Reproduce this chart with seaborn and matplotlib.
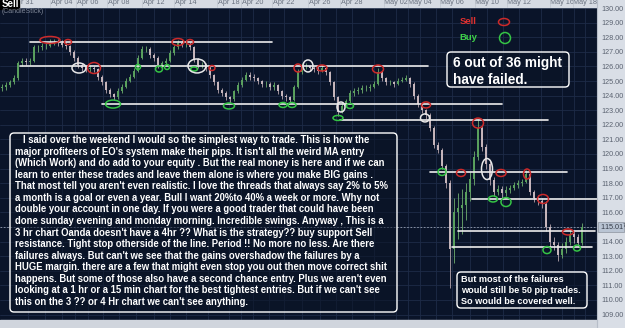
import numpy as np
import pandas as pd
import matplotlib
matplotlib.use("Agg")
import matplotlib.pyplot as plt
import seaborn as sns
from matplotlib.patches import Ellipse, FancyBboxPatch, Rectangle

# ---------------- data ----------------
closes = [124.6, 124.7, 124.9, 125.2, 126.2, 126.4, 126.3, 126.4, 127.3, 127.3,
          127.4, 127.4, 127.7, 127.7, 127.6, 127.5, 127.4, 127.0, 126.6, 126.1,
          125.9, 125.8, 125.9, 125.8, 125.3, 124.9, 124.4, 124.1, 123.9, 124.3,
          124.6, 125.0, 125.3, 125.7, 126.6, 127.2, 127.2, 126.8, 126.6, 126.1,
          126.2, 126.4, 126.9, 127.3, 127.6, 127.5, 127.5, 127.3, 126.5, 126.1,
          126.1, 125.9, 125.4, 124.9, 124.4, 124.2, 123.9, 123.8, 124.3, 124.7,
          125.1, 125.4, 125.3, 125.2, 125.0, 124.8, 124.8, 124.6, 124.7, 124.3,
          124.0, 123.9, 123.7, 124.6, 125.6, 126.0, 126.0, 125.9, 125.8, 125.7,
          125.9, 125.6, 124.9, 123.9, 122.9, 123.3, 123.6, 124.2, 124.3, 124.4,
          124.5, 124.5, 124.6, 124.8, 125.6, 125.2, 124.9, 124.9, 124.8, 125.0,
          125.1, 125.2, 124.8, 124.0, 123.4, 123.0, 122.7, 121.8, 120.6, 120.3,
          119.2, 118.0, 113.5, 116.0, 116.3, 116.5, 117.4, 118.3, 119.8, 121.8,
          120.5, 119.3, 118.2, 117.4, 117.6, 117.3, 117.5, 117.7, 117.9, 118.0,
          118.1, 118.6, 117.4, 117.0, 116.8, 116.6, 115.0, 114.0, 113.8, 113.1,
          113.5, 114.0, 114.5, 114.3, 113.9, 115.0]
highs = [124.8, 124.9, 125.1, 125.4, 126.4, 126.6, 126.6, 126.6, 127.5, 127.5,
         127.6, 127.6, 127.9, 127.9, 127.9, 127.8, 127.7, 127.5, 127.1, 126.7,
         126.2, 126.1, 126.1, 126.0, 125.9, 125.4, 125.0, 124.5, 124.2, 124.5,
         124.8, 125.2, 125.5, 125.9, 126.8, 127.4, 127.4, 127.3, 126.9, 126.7,
         126.4, 126.6, 127.1, 127.5, 127.8, 127.8, 127.8, 127.7, 127.4, 126.6,
         126.3, 126.2, 126.0, 125.5, 125.0, 124.5, 124.3, 124.0, 124.4, 124.9,
         125.3, 125.6, 125.6, 125.5, 125.3, 125.1, 125.0, 124.9, 124.9, 124.8,
         124.4, 124.1, 124.0, 124.7, 125.8, 126.2, 126.2, 126.1, 126.0, 126.0,
         126.1, 126.0, 125.7, 125.0, 124.0, 123.5, 123.8, 124.4, 124.5, 124.6,
         124.7, 124.7, 124.8, 125.0, 125.9, 125.7, 125.3, 125.1, 125.0, 125.2,
         125.3, 125.4, 125.3, 124.9, 124.1, 123.5, 123.1, 122.8, 121.9, 120.8,
         120.4, 119.3, 118.2, 117.0, 117.3, 117.6, 118.0, 118.8, 120.2, 122.4,
         122.0, 120.7, 119.5, 118.4, 117.9, 117.8, 117.8, 117.9, 118.1, 118.2,
         118.3, 118.9, 118.7, 117.5, 117.2, 117.0, 116.8, 115.2, 114.3, 114.0,
         113.9, 114.3, 114.8, 114.7, 114.5, 115.3]
lows = [124.3, 124.4, 124.6, 124.8, 125.1, 126.0, 126.1, 126.1, 126.3, 127.0,
        127.1, 127.2, 127.3, 127.5, 127.4, 127.3, 127.2, 126.8, 126.4, 125.9,
        125.7, 125.6, 125.6, 125.6, 125.1, 124.7, 124.2, 123.9, 123.7, 123.8,
        124.2, 124.5, 124.9, 125.2, 125.6, 126.5, 127.0, 126.6, 126.4, 125.9,
        125.9, 126.1, 126.3, 126.8, 127.2, 127.3, 127.3, 127.1, 126.3, 125.9,
        125.9, 125.7, 125.2, 124.7, 124.2, 124.0, 123.7, 123.5, 123.6, 124.2,
        124.6, 125.0, 125.1, 125.0, 124.8, 124.6, 124.6, 124.4, 124.4, 124.1,
        123.8, 123.6, 123.5, 123.6, 124.5, 125.5, 125.8, 125.7, 125.6, 125.5,
        125.6, 125.4, 124.7, 123.7, 122.6, 122.8, 123.2, 123.5, 124.0, 124.1,
        124.2, 124.3, 124.3, 124.5, 124.7, 125.0, 124.7, 124.7, 124.6, 124.7,
        124.9, 125.0, 124.6, 123.8, 123.2, 122.8, 122.4, 121.6, 120.4, 120.1,
        119.0, 117.7, 110.8, 112.5, 114.2, 114.5, 115.5, 116.8, 117.9, 119.6,
        120.2, 119.0, 117.9, 117.1, 117.2, 117.0, 117.1, 117.3, 117.5, 117.7,
        117.8, 118.0, 117.2, 116.7, 116.5, 116.3, 114.7, 113.6, 113.4, 112.7,
        112.9, 113.2, 113.8, 113.9, 113.6, 113.8]
first_open = 124.5

# support / resistance lines: price, start candle, end candle
level_price = [127.7, 126.0, 123.4, 122.3, 118.8, 116.9, 114.7, 113.6]
level_start = [7, 4.5, 25, 84.5, 107, 117.5, 114, 112.5]
level_end = [67.5, 106.5, 125, 136.5, 141.25, 148.75, 148.25, 147.5]

# marked trades: candle index, price
sell_idx = [12, 16.5, 23, 44, 47, 52.5, 74, 80, 94, 106, 119, 114.75, 124.75, 131.25, 135.25, 141.5]
sell_px = [127.81, 127.67, 125.89, 127.67, 127.67, 125.89, 125.89, 125.89, 125.82, 123.36,
           122.12, 118.70, 118.70, 118.63, 116.92, 114.66]
buy_idx = [27.75, 34, 39.25, 41.25, 48, 56.75, 70.25, 72.5, 87, 84, 110, 122.75, 126, 136.25, 143.75]
buy_px = [123.42, 125.96, 125.82, 125.96, 125.82, 123.29, 123.36, 123.36, 123.29, 122.47,
          118.77, 116.92, 116.71, 113.42, 113.56]
fail_idx = [19.25, 48.75, 76.5, 84.75, 105.75, 121.25]
fail_px = [125.89, 126.03, 126.03, 123.22, 122.47, 118.97]

# first date label is partly hidden behind the "Sell" tag in the original; only "r 31" shows
date_labels = ["r 31", "Apr 04", "Apr 06", "Apr 08", "Apr 12", "Apr 14", "Apr 18", "Apr 20",
               "Apr 22", "Apr 26", "Apr 28", "May 02", "May 04", "May 06", "May 10", "May 12",
               "May 16", "May 18"]
date_pos = [6.4, 14.9, 21.4, 29.25, 37.9, 46, 56.75, 62.75, 70.5, 79.5, 87.5, 98.5,
            104.5, 112.5, 121.25, 129.25, 140, 145.75]

price_ticks = list(range(109, 131))
last_price = 115.01

main_text = [
    "I said over the weekend I would so the simplest way to trade. This is how the",
    "major profiteers of EO's system make their pips. It isn't all the weird MA entry",
    "(Which Work) and do add to your equity . But the real money is here and if we can",
    "learn to enter these trades and leave them alone is where you make BIG gains .",
    "That most tell you aren't even realistic. I love the threads that always say 2% to 5%",
    "a month is a goal or even a year. Bull I want 20%to 40% a week or more. Why not",
    "double your account in one day. If you were a good trader that could have been",
    "done sunday evening and monday morning. Incredible swings. Anyway , This is a",
    "3 hr chart Oanda doesn't have a 4hr ?? What is the strategy?? buy support Sell",
    "resistance. Tight stop otherside of the line. Period !! No more no less. Are there",
    "failures always. But can't we see that the gains overshadow the failures by a",
    "HUGE margin. there are a few that might even stop you out then move correct shit",
    "happens. But some of those also have a second chance entry. Plus we aren't even",
    "looking at a 1 hr or a 15 min chart for the best tightest entries. But if we can't see",
    "this on the 3 ?? or 4 Hr chart we can't see anything.",
]
note_failed = ["6 out of 36 might", "have failed."]
note_pips = ["But most of the failures", "would still be 50 pip trades.", "So would be covered well."]

# ---------------- figure ----------------
sns.set_style("dark")
plt.rcParams['font.family'] = ['Liberation Sans', 'DejaVu Sans']

W, H = 625, 328
BG = '#0a1429'
fig = plt.figure(figsize=(W / 100, H / 100), dpi=100, facecolor='#d9dee6')
ax = fig.add_axes([0, 8 / H, 597 / W, 320 / H])
ax.set_facecolor(BG)
X0, X1 = -0.5, 148.75
Y0, Y1 = 108.63, 130.548
ax.set_xlim(X0, X1)
ax.set_ylim(Y0, Y1)
PX = (X1 - X0) / 597.0
PY = (Y1 - Y0) / 320.0
for s in ax.spines.values():
    s.set_visible(False)

# grid
for p in price_ticks:
    ax.axhline(p, color='#1e2b47', lw=0.6, zorder=0)
grid_x = sorted(set(date_pos + [(a + b) / 2 for a, b in zip(date_pos[:-1], date_pos[1:])]))
for gx in grid_x:
    ax.axvline(gx, color='#1e2b47', lw=0.6, zorder=0)

# candles
n = len(closes)
idx = np.arange(n)
opens = [first_open] + closes[:-1]
up = [c >= o for o, c in zip(opens, closes)]
wick_col = ['#6fae6f' if u else '#b8a6ae' for u in up]
body_col = ['#5aa25e' if u else '#c9b8be' for u in up]
ax.vlines(idx, lows, highs, colors=wick_col, lw=0.6, zorder=2)
ax.vlines(idx, np.minimum(opens, closes), np.maximum(opens, closes), colors=body_col, lw=1.4, zorder=3)

# current price dashed line
ax.axhline(last_price, color='#9aa2b0', lw=0.6, ls=(0, (2, 2)), zorder=1)

# support / resistance lines with seaborn
rows = []
for k, (p, a, b) in enumerate(zip(level_price, level_start, level_end)):
    rows.append({'line': k, 'x': a, 'y': p})
    rows.append({'line': k, 'x': b, 'y': p})
lv = pd.DataFrame(rows)
sns.lineplot(data=lv, x='x', y='y', units='line', estimator=None, color='#ececec',
             lw=1.2, ax=ax, zorder=4, legend=False)
ax.set_xlabel('')
ax.set_ylabel('')
ax.set_xlim(X0, X1)
ax.set_ylim(Y0, Y1)

# circles
sell_w = [20, 7, 13, 12, 7, 6, 8, 10, 11, 9, 11, 9, 10, 7, 11, 11]
sell_h = [7, 5, 11, 7, 5, 5, 8, 6, 8, 6, 10, 7, 7, 10, 9, 6]
buy_w = [15, 5, 7, 5, 7, 11, 8, 8, 7, 10, 8, 9, 10, 8, 7]
buy_h = [8, 5, 6, 5, 4, 6, 5, 5, 5, 5, 7, 6, 9, 7, 6]
fail_w = [14, 18, 10, 8, 9, 11]
fail_h = [10, 14, 12, 10, 8, 21]
for xs, ys, ws, hs, col in [(sell_idx, sell_px, sell_w, sell_h, '#cc2a2a'),
                            (buy_idx, buy_px, buy_w, buy_h, '#35c445'),
                            (fail_idx, fail_px, fail_w, fail_h, '#e8e8e8')]:
    for x, y, w, h in zip(xs, ys, ws, hs):
        ax.add_patch(Ellipse((x, y), w * PX, h * PY, fill=False, ec=col, lw=1.1, zorder=6))

# right price axis (the 115 label is hidden under the last-price tag)
ax.yaxis.tick_right()
ax.set_yticks(price_ticks)
ax.set_yticklabels(["" if p == 115 else f"{p:.2f}" for p in price_ticks])
ax.tick_params(axis='y', length=0, pad=3, labelsize=5.2, labelcolor='#5a6270')
ax.tick_params(axis='x', length=0, labelbottom=False)
ax.set_xticks([])
ax.grid(False)

# overlay in pixel coordinates
ov = fig.add_axes([0, 0, 1, 1])
ov.set_xlim(0, W)
ov.set_ylim(H, 0)
ov.axis('off')
ov.patch.set_visible(False)

# top date strip
ov.add_patch(Rectangle((0, 0), 597, 6.5, color='#d6dbe3', zorder=1))
for lab, p in zip(date_labels, date_pos):
    xp = (p - X0) / PX
    ov.text(xp, 3.0, lab, fontsize=5.2, color='#6a7280', ha='center', va='center', zorder=2)
    ov.plot([xp - 12, xp - 12], [0, 6.5], color='#bfc5ce', lw=0.5, zorder=2)

# bottom strip
ov.add_patch(Rectangle((0, 320), 597, 8, color='#d0d5dd', zorder=1))
ov.plot([597, 597], [0, H], color='#b7bec9', lw=0.8, zorder=1)

# Sell label / chart type
ov.add_patch(Rectangle((0, 0), 19, 8.5, color='#000000', zorder=3))
ov.text(1.2, 4.3, "Sell", fontsize=7, fontweight='bold', color='white', va='center', zorder=4)
ov.text(2, 11.5, "(CandleStick)", fontsize=5, color='#7d8596', va='center', zorder=4)

# current price tag
lp_y = 8 + (130 - last_price) * 14.6
ov.add_patch(Rectangle((597.5, lp_y - 5), 26, 10, fc='#b9c4d3', ec='#8c939e', lw=0.5, zorder=3))
ov.text(599.5, lp_y, "115.01$^{7}$", fontsize=5.2, color='#333a46', va='center', zorder=4)

# legend
ov.text(468, 22, "Sell", fontsize=6.8, fontweight='bold', color='#e0302f', ha='center', va='center')
ov.text(468, 37, "Buy", fontsize=6.8, fontweight='bold', color='#3fd24a', ha='center', va='center')
ov.add_patch(Ellipse((504, 22), 11, 7, fill=False, ec='#cc2a2a', lw=1.1))
ov.add_patch(Ellipse((505, 38), 11, 11, fill=False, ec='#35c445', lw=1.1))

# text boxes
def tbox(x0, y0, x1, y1):
    ov.add_patch(FancyBboxPatch((x0, y0), x1 - x0, y1 - y0,
                                boxstyle="round,pad=0,rounding_size=4",
                                fc=(0.04, 0.08, 0.15, 0.55), ec='white', lw=1.0, zorder=5))

tbox(10, 133, 397, 312)
for k, line in enumerate(main_text):
    xl = 23 if k == 0 else 15
    ov.text(xl, 140 + k * 11.57, line, fontsize=6.85, fontweight='bold', color='white',
            va='center', ha='left', zorder=6)

tbox(447, 52, 569, 87)
for k, line in enumerate(note_failed):
    ov.text(453, 63 + k * 16.5, line, fontsize=9.8, fontweight='bold', color='white',
            va='center', ha='left', zorder=6)

tbox(457, 272, 587, 308)
for k, line in enumerate(note_pips):
    ov.text(461, 279 + k * 11.5, line, fontsize=6.6, fontweight='bold', color='white',
            va='center', ha='left', zorder=6)

fig.savefig("out.png", dpi=100, facecolor=fig.get_facecolor())
